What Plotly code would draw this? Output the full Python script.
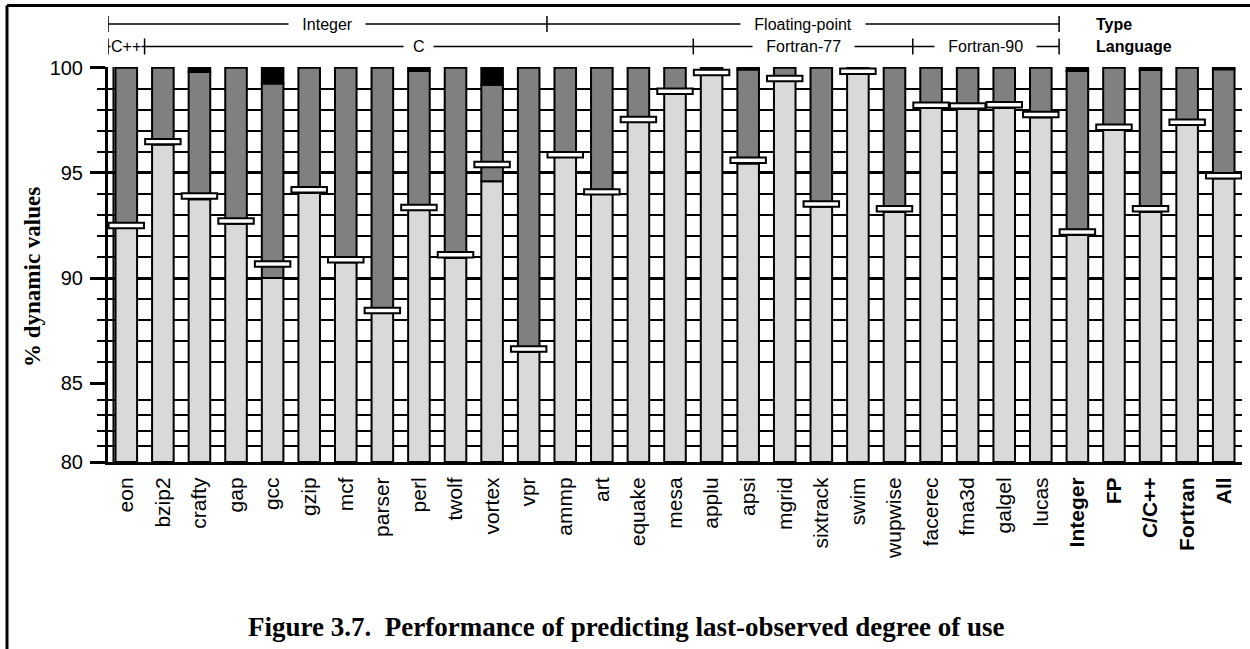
import plotly.graph_objects as go

# Benchmarks (SPEC CPU2000) followed by the summary groups
benchmarks = ["eon", "bzip2", "crafty", "gap", "gcc", "gzip", "mcf", "parser", "perl",
              "twolf", "vortex", "vpr", "ammp", "art", "equake", "mesa", "applu", "apsi",
              "mgrid", "sixtrack", "swim", "wupwise", "facerec", "fma3d", "galgel", "lucas",
              "Integer", "FP", "C/C++", "Fortran", "All"]
summary_labels = ["Integer", "FP", "C/C++", "Fortran", "All"]

# % dynamic values: correctly predicted (light), mispredicted (dark), other (black)
light_vals = [92.40, 96.35, 93.75, 92.60, 90.00, 94.05, 90.75, 88.35, 93.25, 90.95, 94.60, 86.50,
              95.80, 94.00, 97.45, 98.80, 99.70, 95.45, 99.37, 93.40, 99.75, 93.15,
              98.10, 98.05, 98.10, 97.65, 92.05, 97.05, 93.15, 97.30, 94.75]
dark_vals = [7.60, 3.65, 6.05, 7.40, 9.25, 5.95, 9.25, 11.65, 6.60, 9.05, 4.60, 13.50,
             4.20, 6.00, 2.55, 1.20, 0.30, 4.47, 0.63, 6.60, 0.25, 6.85,
             1.90, 1.95, 1.90, 2.35, 7.80, 2.95, 6.75, 2.70, 5.18]
black_vals = [0.00, 0.00, 0.20, 0.00, 0.75, 0.00, 0.00, 0.00, 0.15, 0.00, 0.80, 0.00,
              0.00, 0.00, 0.00, 0.00, 0.00, 0.08, 0.00, 0.00, 0.00, 0.00,
              0.00, 0.00, 0.00, 0.00, 0.15, 0.00, 0.10, 0.00, 0.07]
# Level shown by the white bar-marker on each column
marker_vals = [92.50, 96.49, 93.90, 92.71, 90.67, 94.20, 90.87, 88.46, 93.36, 91.11, 95.40, 86.63,
               95.87, 94.10, 97.54, 98.89, 99.78, 95.60, 99.49, 93.52, 99.84, 93.30,
               98.22, 98.19, 98.24, 97.78, 92.19, 97.17, 93.30, 97.41, 94.87]

# Group brackets above the plot (first index, last index)
type_names = ["Integer", "Floating-point"]
type_spans = [(0, 11), (12, 25)]
lang_names = ["C++", "C", "Fortran-77", "Fortran-90"]
lang_spans = [(0, 0), (1, 15), (16, 21), (22, 25)]

y_ticks_upper = [85, 90, 95, 100]
y_ticks_lower = [80]

W, H = 1250, 649
ML, MR, MT, MB = 108, 8, 67, 187
PW, PH = W - ML - MR, H - MT - MB
split = 78 / PH  # lower panel (80-85) is drawn compressed

SANS = "Liberation Sans, Arial, sans-serif"
SERIF = "Liberation Serif, Times New Roman, serif"
LIGHT, DARK, BLACK = "#d9d9d9", "#808080", "#000000"
BAR_W = 0.59


def px_x(p):
    return (p - ML) / PW


def px_y(p):
    return (H - MB - p) / PH


fig = go.Figure()
outline = dict(color="black", width=2)

base80 = [80] * len(benchmarks)
light_h = [v - 80 for v in light_vals]
dark_base = light_vals
black_base = [l + d for l, d in zip(light_vals, dark_vals)]
black_h = [b if b > 0 else None for b in black_vals]
mark_h = 0.26
mark_base = [m - mark_h / 2 for m in marker_vals]

for yax in ("y", "y2"):
    fig.add_trace(go.Bar(x=benchmarks, y=light_h, base=base80, width=BAR_W, yaxis=yax,
                         marker=dict(color=LIGHT, line=outline), showlegend=False,
                         hoverinfo="skip"))
fig.add_trace(go.Bar(x=benchmarks, y=dark_vals, base=dark_base, width=BAR_W, yaxis="y2",
                     marker=dict(color=DARK, line=outline), showlegend=False, hoverinfo="skip"))
fig.add_trace(go.Bar(x=benchmarks, y=black_h, base=black_base, width=BAR_W, yaxis="y2",
                     marker=dict(color=BLACK, line=outline), showlegend=False, hoverinfo="skip"))
fig.add_trace(go.Bar(x=benchmarks, y=[mark_h] * len(benchmarks), base=mark_base, width=0.97,
                     yaxis="y2", marker=dict(color="white", line=outline), showlegend=False,
                     hoverinfo="skip"))

ticktext = ["<b>%s</b>" % b if b in summary_labels else b for b in benchmarks]

common_y = dict(showline=True, linecolor="black", linewidth=3, ticks="outside", ticklen=15,
                tickwidth=3, tickcolor="black", showgrid=True, gridcolor="black", gridwidth=3,
                zeroline=False, tickfont=dict(family=SANS, size=20, color="black"),
                ticklabelstandoff=3,
                minor=dict(dtick=1, tick0=0, ticks="outside", ticklen=8, tickwidth=2,
                           tickcolor="black", showgrid=True, gridcolor="black", gridwidth=2))

fig.update_layout(
    width=W, height=H, margin=dict(l=ML, r=MR, t=MT, b=MB),
    paper_bgcolor="white", plot_bgcolor="white", barmode="overlay",
    xaxis=dict(type="category", range=[-0.5, len(benchmarks) - 0.5], tickangle=-90,
               tickvals=benchmarks, ticktext=ticktext, showline=True, linecolor="black",
               linewidth=3, ticks="", showgrid=False, anchor="y",
               tickfont=dict(family=SANS, size=21, color="black"), ticklabelstandoff=4),
    yaxis=dict(domain=[0, split], range=[80, 85], tickvals=y_ticks_lower, anchor="x",
               **common_y),
    yaxis2=dict(domain=[split, 1], range=[84.96, 100.04], tickvals=y_ticks_upper,
                anchor="x", **common_y),
)

shapes = []
annotations = []
LINE = dict(color="black", width=1.5)
GAP = "&nbsp;" * 3


def bracket_row(names, spans, y_px, gaps):
    y = px_y(y_px)
    tick = 8 / PH
    x0 = spans[0][0] - 0.5
    x1 = spans[-1][1] + 0.5
    shapes.append(dict(type="line", xref="x", yref="paper", x0=x0, x1=x1, y0=y, y1=y, line=LINE))
    edges = [x0] + [s[1] + 0.5 for s in spans]
    for e in edges:
        shapes.append(dict(type="line", xref="x", yref="paper", x0=e, x1=e,
                           y0=y - tick, y1=y + tick, line=LINE))
    for name, (a, b), g in zip(names, spans, gaps):
        annotations.append(dict(x=(a + b) / 2, y=y, xref="x", yref="paper",
                                text=g + name + g, xanchor="center", yanchor="middle",
                                showarrow=False, bgcolor="white", borderpad=0,
                                font=dict(family=SANS, size=16, color="black")))


bracket_row(type_names, type_spans, 24, [GAP, GAP])
bracket_row(lang_names, lang_spans, 46.5, ["", "&nbsp;&nbsp;", GAP, GAP])

for txt, y_px in (("Type", 24), ("Language", 46.5)):
    annotations.append(dict(x=px_x(1094), y=px_y(y_px), xref="paper", yref="paper",
                            xanchor="left", yanchor="middle", text="<b>%s</b>" % txt,
                            showarrow=False, font=dict(family=SANS, size=16, color="black")))

annotations.append(dict(x=px_x(32), y=px_y(277), xref="paper", yref="paper",
                        xanchor="center", yanchor="middle",
                        text="<b>% dynamic values</b>", textangle=-90, showarrow=False,
                        font=dict(family=SERIF, size=23, color="black")))
annotations.append(dict(x=px_x(626), y=px_y(627), xref="paper", yref="paper",
                        xanchor="center", yanchor="middle",
                        text="<b>Figure 3.7.&nbsp; Performance of predicting last-observed degree of use</b>",
                        showarrow=False, font=dict(family=SERIF, size=27, color="black")))

# Inner rule just right of the value axis
shapes.append(dict(type="line", xref="x", yref="paper", x0=-0.35, x1=-0.35, y0=0, y1=1,
                   line=dict(color="black", width=2), layer="below"))

# Page frame (top and left edges)
shapes.append(dict(type="line", xref="paper", yref="paper", x0=px_x(7), x1=px_x(W),
                   y0=px_y(5.5), y1=px_y(5.5), line=dict(color="black", width=3)))
shapes.append(dict(type="line", xref="paper", yref="paper", x0=px_x(7), x1=px_x(7),
                   y0=px_y(5.5), y1=px_y(H), line=dict(color="black", width=3)))

fig.update_layout(shapes=shapes, annotations=annotations)
fig.write_html("out.html")
